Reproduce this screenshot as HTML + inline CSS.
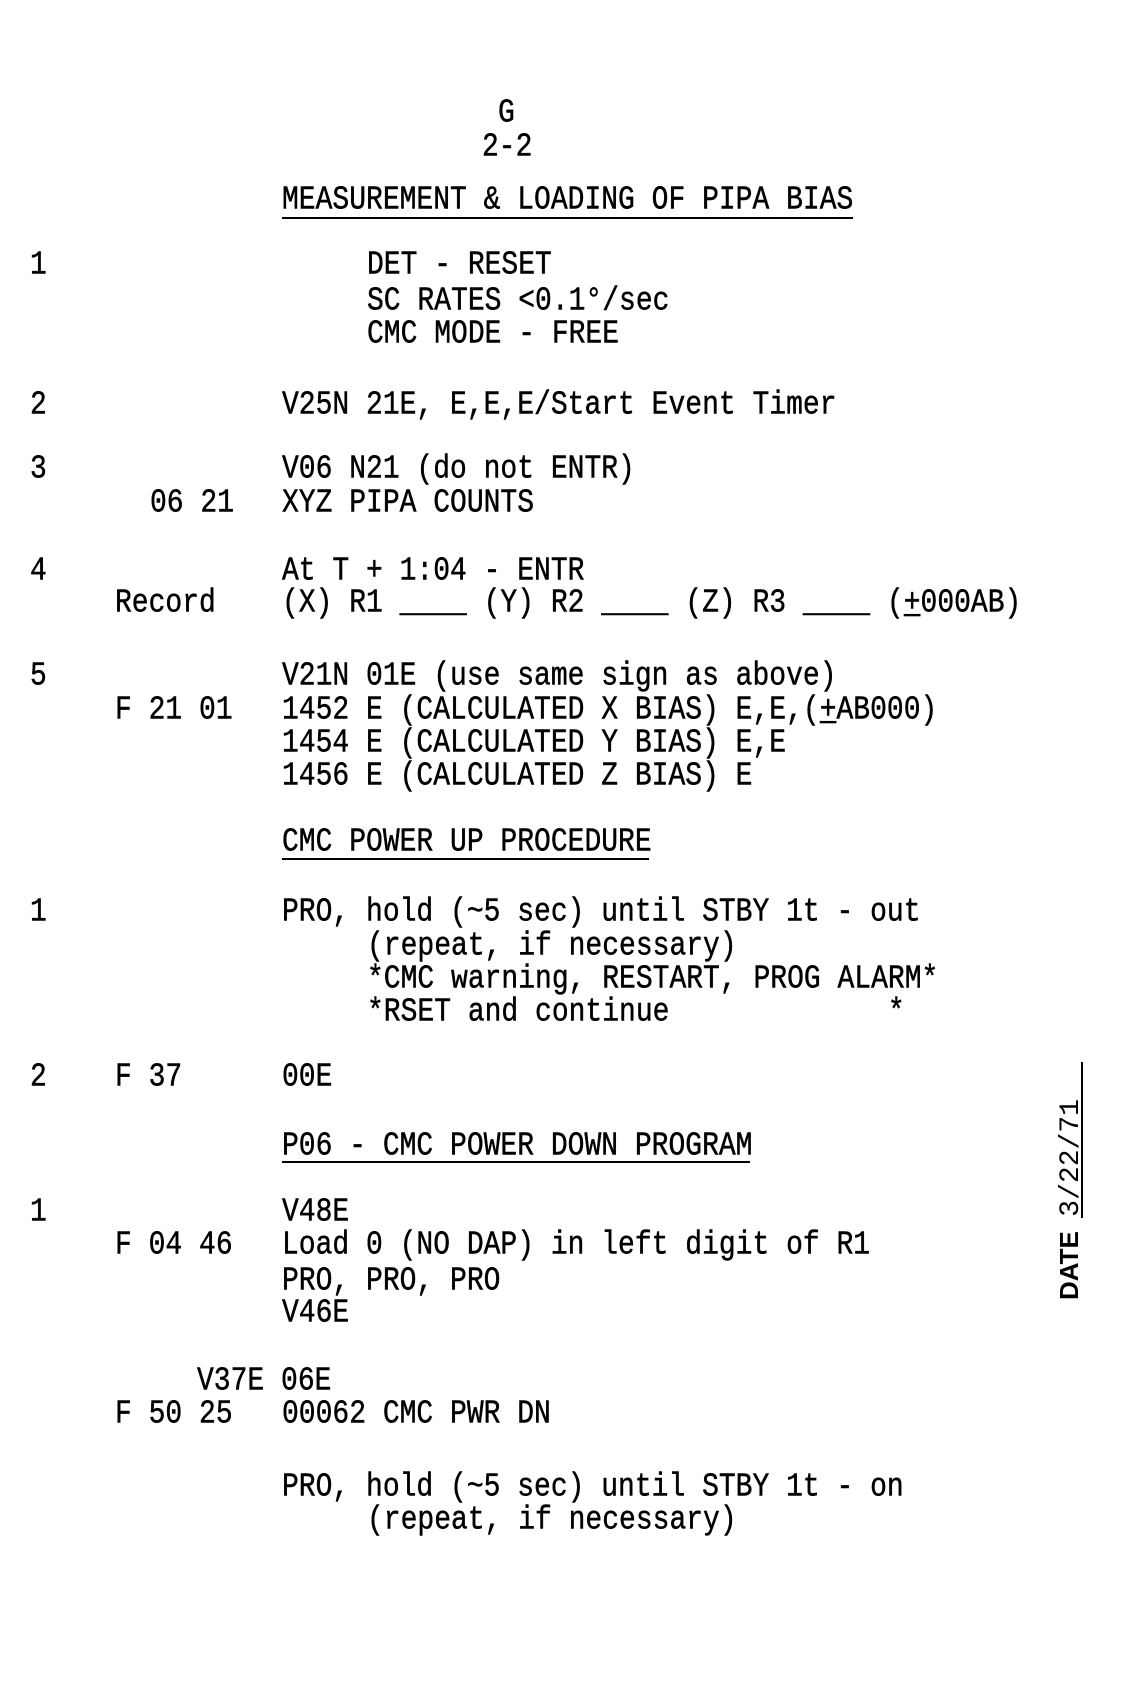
<!DOCTYPE html>
<html><head><style>
body{margin:0;width:1126px;height:1691px;background:#fff;position:relative;overflow:hidden}
.t{position:absolute;font-family:"Liberation Mono",monospace;font-size:28px;line-height:28px;white-space:pre;color:#000;transform:scaleY(1.2);transform-origin:0 80%;-webkit-text-stroke:0.4px #000}
.ul{position:absolute;height:2px;background:#000}
</style></head><body>
<div class="t" style="left:498px;top:102px">G</div>
<div class="t" style="left:482px;top:136px">2-2</div>
<div class="t" style="left:282px;top:189px">MEASUREMENT &amp; LOADING OF PIPA BIAS</div>
<div class="ul" style="left:282px;top:217px;width:571px"></div>

<div class="t" style="left:30px;top:254px">1</div>
<div class="t" style="left:367px;top:254px">DET - RESET</div>
<div class="t" style="left:367px;top:290px">SC RATES &lt;0.1°/sec</div>
<div class="t" style="left:367px;top:323px">CMC MODE - FREE</div>

<div class="t" style="left:30px;top:394px">2</div>
<div class="t" style="left:282px;top:394px">V25N 21E, E,E,E/Start Event Timer</div>

<div class="t" style="left:30px;top:458px">3</div>
<div class="t" style="left:282px;top:458px">V06 N21 (do not ENTR)</div>
<div class="t" style="left:150px;top:492px">06 21</div>
<div class="t" style="left:282px;top:492px">XYZ PIPA COUNTS</div>

<div class="t" style="left:30px;top:560px">4</div>
<div class="t" style="left:282px;top:560px">At T + 1:04 - ENTR</div>
<div class="t" style="left:115px;top:592px">Record</div>
<div class="t" style="left:282px;top:592px">(X) R1 ____ (Y) R2 ____ (Z) R3 ____ (<u>+</u>000AB)</div>

<div class="t" style="left:30px;top:665px">5</div>
<div class="t" style="left:282px;top:665px">V21N 01E (use same sign as above)</div>
<div class="t" style="left:115px;top:699px">F 21 01</div>
<div class="t" style="left:282px;top:699px">1452 E (CALCULATED X BIAS) E,E,(<u>+</u>AB000)</div>
<div class="t" style="left:282px;top:732px">1454 E (CALCULATED Y BIAS) E,E</div>
<div class="t" style="left:282px;top:765px">1456 E (CALCULATED Z BIAS) E</div>

<div class="t" style="left:282px;top:831px">CMC POWER UP PROCEDURE</div>
<div class="ul" style="left:282px;top:858px;width:367px"></div>

<div class="t" style="left:30px;top:901px">1</div>
<div class="t" style="left:282px;top:901px">PRO, hold (~5 sec) until STBY 1t - out</div>
<div class="t" style="left:367px;top:935px">(repeat, if necessary)</div>
<div class="t" style="left:367px;top:968px">*CMC warning, RESTART, PROG ALARM*</div>
<div class="t" style="left:367px;top:1001px">*RSET and continue             *</div>

<div class="t" style="left:30px;top:1066px">2</div>
<div class="t" style="left:115px;top:1066px">F 37</div>
<div class="t" style="left:282px;top:1066px">00E</div>

<div class="t" style="left:282px;top:1135px">P06 - CMC POWER DOWN PROGRAM</div>
<div class="ul" style="left:282px;top:1161px;width:468px"></div>

<div class="t" style="left:30px;top:1201px">1</div>
<div class="t" style="left:282px;top:1201px">V48E</div>
<div class="t" style="left:115px;top:1234px">F 04 46</div>
<div class="t" style="left:282px;top:1234px">Load 0 (NO DAP) in left digit of R1</div>
<div class="t" style="left:282px;top:1270px">PRO, PRO, PRO</div>
<div class="t" style="left:282px;top:1302px">V46E</div>

<div class="t" style="left:197px;top:1370px">V37E 06E</div>
<div class="t" style="left:115px;top:1403px">F 50 25</div>
<div class="t" style="left:282px;top:1403px">00062 CMC PWR DN</div>

<div class="t" style="left:282px;top:1476px">PRO, hold (~5 sec) until STBY 1t - on</div>
<div class="t" style="left:367px;top:1509px">(repeat, if necessary)</div>

<div class="ul" style="left:1081px;top:1062px;width:2px;height:156px"></div>
<div style="position:absolute;left:1056px;top:1300px;transform:rotate(-90deg);transform-origin:0 0;font-family:'Liberation Sans',sans-serif;font-size:26px;line-height:26px;white-space:pre;width:230px"><b>DATE</b>  <span style="font-family:'Liberation Mono',monospace;font-size:28px">3/22/71</span></div>
</body></html>
